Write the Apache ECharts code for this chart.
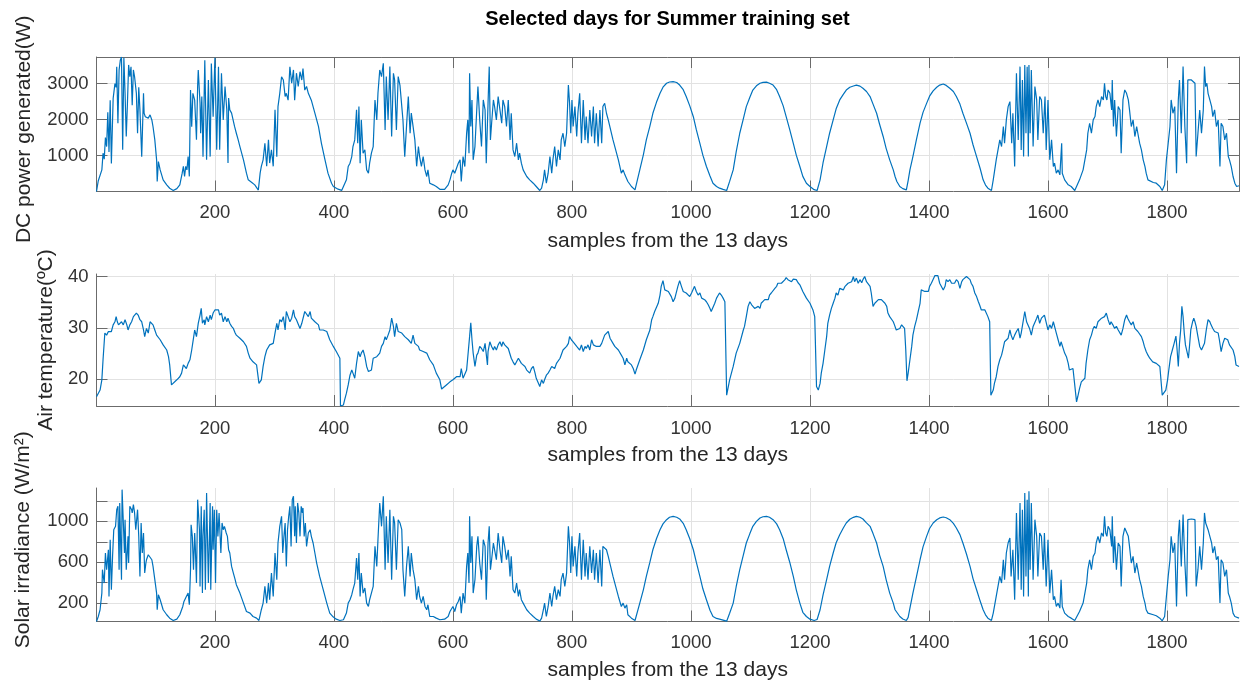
<!DOCTYPE html>
<html><head><meta charset="utf-8">
<script src="https://cdn.jsdelivr.net/npm/echarts@6/dist/echarts.min.js"></script>
<style>html,body{margin:0;padding:0;background:#fff}#c{width:1244px;height:683px}</style>
</head><body><div id="c"></div>
<script>
// [sample index, DC power (W)]
const power = [
[1,0],[4,300],[7,320],[10,600],[12,1065],[14,900],[16,1500],[18,1250],[20,2200],[22,1100],[24,2540],[26,780],[29,2590],[32,3000],[34,2900],[35,3470],[37,1900],[39,3380],[41,3650],[43,3740],[45,1160],[47,3720],[49,2730],[51,1530],[53,2450],[55,3520],[57,3190],[59,3470],[61,2400],[63,3380],[65,3190],[68,2730],[70,1620],[72,2900],[74,2270],[77,970],[80,2730],[81,2180],[83,2080],[85,2130],[88,2040],[91,2130],[94,1990],[96,1800],[99,1435],[102,880],[103,280],[105,830],[108,600],[113,324],[119,185],[124,90],[130,30],[136,80],[141,185],[145,510],[147,700],[149,420],[151,700],[153,600],[155,970],[157,420],
[159,2820],[161,1800],[163,2730],[166,2540],[169,1440],[171,2950],[172,3380],[175,2450],[176,1620],[178,2640],[180,970],[183,3650],[186,880],[189,3100],[192,970],[194,3560],[197,2080],[200,3720],[203,1160],[206,3470],[208,1160],[211,3290],[214,1990],[217,2920],[220,2270],[222,790],[223,2600],[225,2270],[228,2180],[233,1810],[236,1620],[239,1440],[242,1250],[248,880],[253,510],[256,324],[262,250],[267,185],[273,40],
[276,510],[278,700],[281,880],[284,1340],[287,700],[290,1440],[292,790],[295,1160],[298,700],[301,2270],[304,970],[306,2360],[309,2730],[312,3190],[315,3100],[318,2640],[320,2730],[323,2540],[326,3470],[329,3010],[332,3380],[334,2540],[337,3290],[340,2920],[343,3330],[346,3100],[348,3420],[351,2820],[354,2920],[357,2730],[360,2780],[362,2540],[368,2180],[374,1810],[379,1340],[385,880],[390,510],[396,230],[399,140],[402,120],[407,65],[413,30],
[416,140],[421,324],[424,694],[427,787],[430,972],[432,1250],[435,1435],[438,2270],[440,1343],[442,2360],[444,787],[446,1991],[449,1065],[452,1157],[455,602],[458,509],[460,787],[463,1065],[466,1250],[469,2546],[472,1991],[474,2731],[477,3380],[480,3194],[483,3565],[486,1713],[488,3194],[491,1991],[494,3472],[497,1528],[500,3287],[502,3102],[505,1713],[508,3194],[511,2950],[514,2950],[516,1990],[519,970],[522,1810],[525,2640],[528,1620],[530,2180],[533,1810],[536,1435],[539,700],[542,1250],[544,972],[547,700],[550,972],[553,600],[556,417],[558,600],[561,231],[567,185],[572,139],[578,60],[581,20],
[586,60],[592,185],[595,324],[598,509],[600,602],[603,509],[606,648],[609,787],[612,880],[614,278],[617,972],[620,694],[623,1620],[625,1991],[627,1065],[628,3287],[630,1806],[632,2546],[634,880],[637,1250],[640,2268],[642,2917],[645,1991],[648,1250],[651,2546],[654,2268],[656,787],[659,2454],[661,3472],[663,1435],[665,1898],[668,2546],[670,2361],[673,1991],[676,2639],[679,2268],[682,1898],[684,2546],[687,2361],[690,1806],[693,2546],[696,1435],[698,2176],[701,1157],[704,972],[707,1343],[710,880],[712,1065],[715,787],[718,602],[724,417],[729,324],[735,231],[740,139],[746,28],
[749,93],[752,324],[754,602],[757,231],[760,509],[763,972],[766,509],[768,880],[771,1250],[774,694],[777,1157],[780,880],[782,1435],[785,1620],[788,1250],[791,1620],[794,2963],[796,2454],[798,1620],[800,2546],[802,1806],[805,2361],[808,1528],[810,2176],[813,2731],[816,1343],[819,2546],[822,1435],[824,2083],[827,1343],[830,2268],[833,1528],[836,2361],[838,1343],[841,2176],[844,1250],[847,2268],[850,1343],[852,2361],[855,2454],[858,2176],[861,1991],[869,1435],[878,880],[883,509],[886,602],[889,463],[892,509],[894,278],[900,139],[906,46],
[914,600],[920,1020],[925,1435],[931,1820],[936,2175],[942,2480],[948,2730],[953,2900],[959,3010],[964,3045],[970,3055],[976,3030],[981,2960],[987,2830],[992,2640],[998,2380],[1004,2080],[1009,1720],[1015,1340],[1020,1010],[1026,694],[1032,430],[1037,230],[1043,140],[1048,93],[1054,60],[1060,28],
[1065,280],[1071,600],[1076,1100],[1082,1620],[1088,2020],[1093,2360],[1099,2620],[1104,2820],[1110,2940],[1116,3010],[1121,3035],[1127,3040],[1132,3010],[1138,2960],[1144,2830],[1149,2640],[1155,2380],[1160,2080],[1166,1720],[1172,1340],[1177,1010],[1183,694],[1188,420],[1194,230],[1200,139],[1207,50],[1212,28],
[1217,324],[1222,800],[1228,1250],[1233,1620],[1239,1990],[1244,2300],[1250,2546],[1256,2700],[1261,2820],[1267,2900],[1273,2935],[1278,2960],[1284,2930],[1289,2870],[1295,2780],[1301,2640],[1306,2430],[1312,2175],[1317,1870],[1323,1530],[1328,1200],[1334,880],[1340,600],[1343,417],[1346,280],[1351,140],[1356,80],[1362,46],
[1365,300],[1368,600],[1373,970],[1379,1450],[1385,1900],[1390,2200],[1396,2450],[1401,2650],[1407,2800],[1413,2900],[1418,2960],[1424,2990],[1429,2950],[1435,2870],[1441,2780],[1446,2640],[1452,2430],[1457,2175],[1463,1900],[1469,1620],[1474,1300],[1480,970],[1486,640],[1491,325],[1495,180],[1499,93],[1505,28],
[1508,324],[1513,880],[1519,1435],[1522,1250],[1525,1806],[1527,1343],[1530,1991],[1533,2361],[1536,2500],[1539,1343],[1541,2176],[1544,694],[1547,3287],[1550,1435],[1553,3472],[1555,1157],[1557,3102],[1559,972],[1561,3518],[1563,1620],[1565,3472],[1567,972],[1568,3518],[1570,1620],[1572,3380],[1575,1250],[1578,2917],[1581,2546],[1583,1435],[1586,2639],[1589,2546],[1592,1620],[1595,2639],[1597,1157],[1600,2546],[1603,880],[1606,1435],[1609,694],[1611,787],[1614,509],[1617,602],[1620,463],[1623,1343],[1624,509],[1628,324],[1634,185],[1639,139],[1645,28],
[1648,46],[1653,324],[1659,602],[1665,1157],[1667,1620],[1670,1898],[1673,1620],[1676,1991],[1679,2083],[1681,2361],[1684,2546],[1687,2361],[1690,2639],[1693,2546],[1695,3009],[1697,2639],[1699,2546],[1701,2824],[1704,2731],[1707,2268],[1708,3102],[1710,1806],[1712,2546],[1715,1528],[1718,2361],[1721,2268],[1723,1065],[1726,2546],[1729,2824],[1732,2731],[1735,2546],[1737,2268],[1740,1806],[1743,1991],[1746,1528],[1749,1806],[1751,1620],[1754,1343],[1757,1157],[1760,880],[1763,694],[1765,509],[1768,324],[1771,278],[1777,250],[1782,231],[1788,139],[1792,28],
[1796,185],[1799,880],[1802,1343],[1805,1806],[1807,2546],[1810,2176],[1813,2361],[1816,509],[1819,2546],[1821,3102],[1824,1620],[1827,3472],[1830,1806],[1833,787],[1835,3102],[1838,3102],[1841,3102],[1844,3055],[1847,3009],[1849,972],[1852,1620],[1855,2268],[1858,1620],[1861,2268],[1863,3472],[1865,2917],[1867,3009],[1869,2731],[1872,2546],[1875,2361],[1877,2083],[1880,2268],[1883,1806],[1886,1991],[1889,694],[1891,1898],[1894,1806],[1897,1435],[1900,1620],[1903,972],[1905,880],[1908,694],[1911,417],[1914,231],[1917,139],[1921,160]
];

// [sample index, air temperature (ºC)]
const temperature = [
[1,16.6],[4,16.9],[7,17.9],[10,19.9],[12,23.8],[15,29.0],[18,28.6],[21,29.3],[24,29.6],[26,29.3],[29,30.6],[32,31.2],[34,32.2],[36,31.2],[38,30.6],[40,30.9],[43,31.2],[46,30.6],[49,31.6],[52,30.6],[54,29.6],[57,30.6],[60,31.2],[63,32.2],[66,31.9],[68,32.9],[71,32.5],[74,31.6],[77,31.2],[80,29.6],[82,28.3],[85,29.9],[88,29.0],[91,31.2],[94,30.9],[96,30.6],[99,29.6],[102,28.6],[108,27.7],[113,26.7],[119,25.7],[122,24.4],[124,22.8],[127,18.9],[130,19.2],[136,19.9],[141,20.5],[144,21.2],[147,22.8],[150,23.1],[152,22.1],[155,23.1],[158,23.8],[161,25.7],[164,28.0],[166,29.6],[169,28.3],[172,30.9],[175,32.5],[177,33.8],[179,30.9],[182,31.6],[183,30.6],[186,32.2],[189,31.2],[192,32.5],[194,31.6],[197,32.9],[200,33.5],[203,33.2],[206,33.5],[208,32.5],[211,32.9],[214,31.2],[217,32.2],[220,31.2],[222,31.9],[225,30.9],[228,30.3],[231,29.9],[234,29.0],[236,28.6],[242,28.0],[248,27.3],[253,26.4],[256,25.1],[259,24.1],[264,23.4],[270,22.8],[273,22.8],[274,19.2],[277,19.2],[278,19.9],[281,22.5],[284,24.4],[287,25.7],[292,26.7],[298,27.0],[301,29.0],[304,30.9],[306,29.6],[309,31.6],[312,31.2],[315,32.2],[318,29.6],[320,33.2],[323,32.2],[326,31.2],[329,31.9],[332,33.5],[334,32.2],[337,31.6],[340,31.9],[343,29.9],[346,30.9],[348,31.2],[351,33.2],[354,32.9],[357,32.2],[360,33.2],[362,31.9],[365,32.2],[368,31.2],[371,31.2],[374,30.6],[376,29.6],[382,29.6],[388,29.3],[393,27.7],[399,26.4],[404,25.4],[410,24.1],[411,14.8],[416,15.0],[418,16.0],[421,17.3],[424,18.9],[427,20.8],[430,21.8],[432,21.2],[435,20.2],[438,23.1],[441,25.4],[444,24.4],[446,25.1],[449,25.7],[452,24.4],[455,22.5],[458,21.5],[460,21.2],[463,21.8],[466,24.1],[469,24.1],[472,24.4],[474,24.1],[477,25.1],[480,26.4],[483,27.0],[486,28.3],[488,27.7],[491,28.6],[494,29.6],[497,31.9],[500,30.3],[502,28.3],[505,30.9],[508,29.3],
[511,29.6],[514,29.0],[516,29.3],[519,28.3],[522,28.6],[525,27.7],[528,28.0],[530,27.0],[533,28.6],[536,27.0],[539,27.3],[542,26.4],[544,25.7],[547,25.7],[550,25.4],[553,25.7],[556,25.1],[561,23.8],[567,22.8],[572,21.2],[578,19.9],[581,18.1],[584,18.2],[589,18.9],[595,19.5],[600,19.9],[606,20.5],[609,20.8],[612,20.5],[614,22.1],[617,20.2],[620,20.2],[623,21.8],[626,25.7],[628,28.3],[630,31.0],[632,27.7],[634,25.1],[637,22.5],[640,24.7],[642,25.1],[645,26.4],[648,26.0],[651,25.4],[654,27.0],[655,27.3],[658,22.8],[659,25.4],[662,27.3],[665,26.4],[668,25.7],[670,26.4],[673,25.7],[676,26.7],[679,27.3],[682,26.4],[684,27.3],[687,26.7],[690,27.0],[693,26.0],[696,25.7],[698,24.1],[701,23.4],[704,22.8],[707,23.1],[710,24.1],[712,24.1],[715,23.1],[718,22.8],[721,22.5],[724,21.8],[726,21.5],[729,21.2],[732,22.1],[735,22.5],[738,21.2],[740,20.2],[743,20.2],[746,18.6],[749,19.9],[752,19.2],[754,19.9],[757,20.8],[760,21.2],[763,21.8],[766,22.5],[768,22.8],[771,22.1],[774,23.1],[777,23.1],[780,24.1],[782,23.8],[785,25.7],[788,25.4],[791,26.4],[794,27.0],[796,28.3],[799,27.7],[802,27.3],[805,27.0],[808,26.4],[810,26.7],[813,25.7],[816,26.7],[819,25.4],[822,26.4],[824,26.0],[827,26.7],[830,25.7],[833,27.7],[836,26.7],[838,27.0],[841,26.4],[844,26.7],[847,26.4],[850,27.0],[852,27.3],[855,28.6],[858,28.3],[861,29.3],[864,28.0],[866,27.7],[869,27.0],[872,26.4],[875,26.4],[878,25.7],[880,25.4],[883,24.7],[886,24.1],[889,22.8],[892,24.1],[894,23.4],[897,23.1],[900,22.8],[903,22.1],[906,21.0],[908,21.8],[914,23.8],[920,25.7],[925,27.7],[931,29.6],[934,31.6],[936,32.2],[939,33.2],[942,33.5],[945,34.8],[948,36.4],[950,38.1],[953,39.2],[956,37.4],[959,37.7],[962,37.1],[964,36.8],[967,36.1],[970,35.1],[973,35.8],[976,36.1],[978,38.1],[981,39.2],[984,38.1],[987,37.1],[990,37.4],[992,36.8],[995,37.1],[998,36.1],[1001,36.8],[1004,37.1],[1006,38.1],[1009,37.1],[1012,36.4],[1015,36.8],[1018,35.8],[1020,36.1],[1023,35.5],[1026,35.1],[1029,34.5],[1032,33.8],[1034,33.2],[1037,33.5],[1040,34.8],[1043,35.8],[1046,36.4],[1048,36.8],[1051,36.4],[1054,35.8],[1057,35.1],[1060,16.9],[1065,19.9],[1071,22.5],[1076,25.1],[1082,27.0],[1088,29.6],[1090,30.3],[1093,32.2],[1096,34.2],[1099,35.1],[1102,34.5],[1104,34.2],[1107,33.8],[1110,33.5],[1113,34.2],[1116,33.8],[1118,34.8],[1121,35.1],[1124,35.5],[1127,35.8],[1130,35.5],[1132,36.4],[1135,36.8],[1138,37.1],[1141,37.7],[1144,38.1],[1146,38.7],[1149,38.4],[1152,38.7],[1155,39.0],[1158,39.4],[1160,39.8],[1163,39.4],[1166,39.5],[1169,39.0],[1172,39.5],[1174,39.2],[1177,39.4],[1180,38.8],[1183,38.4],[1188,37.1],[1194,35.8],[1200,34.8],[1205,33.5],[1208,32.2],[1211,18.6],[1214,17.9],
[1217,19.2],[1219,21.2],[1222,23.1],[1225,25.7],[1228,28.3],[1230,30.9],[1233,32.5],[1236,33.8],[1239,34.8],[1242,35.8],[1244,36.8],[1247,36.4],[1250,37.7],[1253,37.7],[1256,37.4],[1259,38.1],[1261,38.2],[1264,38.7],[1267,39.0],[1270,39.0],[1273,40.0],[1275,39.0],[1278,39.7],[1281,38.7],[1284,39.4],[1287,38.8],[1289,39.4],[1292,40.0],[1295,39.0],[1298,38.7],[1301,38.1],[1303,36.8],[1306,34.2],[1309,34.8],[1312,35.1],[1315,35.5],[1317,35.5],[1320,35.5],[1323,35.5],[1326,34.8],[1329,34.2],[1331,32.9],[1334,32.2],[1337,31.9],[1340,31.2],[1342,30.6],[1345,29.6],[1348,29.3],[1351,29.9],[1354,30.6],[1356,30.3],[1359,29.9],[1361,25.7],[1363,19.7],[1365,21.2],[1368,23.8],[1371,26.4],[1373,28.6],[1376,30.3],[1379,31.6],[1382,33.2],[1385,34.8],[1387,37.4],[1390,37.1],[1393,37.1],[1396,36.8],[1399,37.1],[1401,38.1],[1404,38.7],[1407,38.7],[1410,40.2],[1413,40.5],[1415,40.2],[1418,38.7],[1421,38.4],[1424,37.4],[1427,38.1],[1429,39.4],[1432,39.0],[1435,39.4],[1438,38.7],[1440,39.0],[1443,38.7],[1446,39.4],[1449,39.0],[1452,37.7],[1455,39.0],[1457,39.4],[1460,39.7],[1463,40.0],[1466,40.1],[1469,39.4],[1471,38.7],[1474,38.1],[1477,36.8],[1480,36.1],[1483,35.1],[1485,34.5],[1488,33.5],[1491,33.2],[1494,33.5],[1497,33.2],[1499,32.2],[1502,31.2],[1504,16.9],[1508,17.9],[1510,19.2],[1513,20.5],[1516,22.5],[1519,23.8],[1522,24.7],[1524,25.7],[1527,27.3],[1530,27.0],[1533,28.0],[1536,29.6],[1538,28.6],[1541,27.7],[1544,28.6],[1547,29.3],[1550,29.9],[1553,28.0],[1555,29.0],[1558,29.3],[1561,33.2],[1564,31.2],[1567,30.9],[1569,29.9],[1572,28.6],[1575,30.3],[1578,30.6],[1581,31.9],[1583,32.5],[1586,30.9],[1589,31.9],[1592,32.2],[1594,32.5],[1597,32.5],[1600,29.6],[1603,30.6],[1606,29.9],[1609,31.2],[1611,30.9],[1614,29.0],[1617,27.7],[1620,26.4],[1622,27.3],[1625,27.0],[1628,25.1],[1631,24.4],[1634,23.1],[1636,21.8],[1639,22.1],[1642,22.1],[1645,22.1],[1648,15.6],[1650,16.6],[1653,18.2],[1656,19.5],[1659,19.5],[1662,20.2],[1664,23.1],[1667,25.7],[1670,27.7],[1673,28.6],[1676,29.9],[1678,30.3],[1681,29.9],[1684,31.2],[1687,31.2],[1690,31.9],[1692,31.6],[1695,32.2],[1698,32.9],[1701,31.6],[1704,30.6],[1706,31.2],[1709,30.6],[1712,29.9],[1715,30.3],[1718,29.6],[1720,29.3],[1723,28.6],[1726,29.9],[1729,31.6],[1732,32.5],[1734,31.9],[1737,31.2],[1740,30.6],[1743,31.2],[1746,29.9],[1748,29.9],[1751,29.3],[1754,29.0],[1757,28.3],[1760,27.3],[1762,26.4],[1765,25.4],[1768,24.7],[1771,24.1],[1774,23.8],[1776,23.4],[1779,23.1],[1782,23.1],[1785,22.8],[1788,22.5],[1790,22.5],[1792,16.9],[1795,16.9],[1798,17.9],[1801,19.9],[1803,21.8],[1806,24.4],[1809,25.7],[1812,27.0],[1815,28.4],[1817,25.7],[1819,22.5],[1821,27.0],[1823,29.6],[1825,34.2],[1827,32.2],[1829,29.0],[1831,26.7],[1833,25.7],[1834,26.0],[1836,24.1],[1838,26.7],[1840,29.6],[1843,31.2],[1845,31.9],[1847,31.2],[1849,30.3],[1852,28.3],[1855,26.4],[1858,25.7],[1860,26.0],[1863,27.0],[1866,29.6],[1869,31.6],[1872,31.2],[1874,30.6],[1877,29.9],[1880,29.3],[1883,29.6],[1886,29.0],[1888,27.7],[1891,25.4],[1894,27.0],[1897,28.0],[1900,28.0],[1902,27.7],[1905,26.7],[1908,26.7],[1911,25.7],[1914,24.4],[1916,22.8],[1921,22.5]
];

// [sample index, solar irradiance (W/m²)]
const irradiance = [
[1,20],[4,69],[7,135],[10,298],[11,527],[14,396],[16,690],[18,527],[21,722],[22,265],[24,820],[26,331],[28,657],[30,918],[33,951],[35,1114],[37,1147],[39,527],[40,1180],[43,429],[44,1310],[46,1326],[48,690],[49,1016],[51,527],[54,853],[55,592],[57,1147],[60,1114],[61,1082],[63,1163],[65,1082],[67,918],[70,1114],[72,853],[74,461],[76,984],[78,690],[80,886],[82,494],[84,592],[85,624],[88,673],[91,657],[94,624],[96,559],[99,429],[102,298],[103,135],[105,282],[108,233],[113,135],[119,86],[124,53],[130,30],[136,43],[141,86],[146,167],[148,216],[150,200],[152,265],[155,298],[157,184],[159,527],[160,967],[162,853],[164,527],[166,886],[167,755],[169,396],[171,1212],[174,918],[175,363],[177,1147],[179,298],[180,853],[182,1114],[184,331],[186,1278],[188,690],[189,396],[192,1180],[193,331],[196,1147],[197,722],[199,1114],[201,396],[203,1114],[205,853],[207,1082],[210,690],[212,984],[214,918],[216,951],[219,886],[221,853],[223,722],[225,690],[228,559],[231,494],[234,429],[236,380],[242,298],[248,200],[253,118],[259,102],[264,69],[270,53],[274,30],
[278,135],[281,200],[284,363],[287,200],[290,396],[292,233],[295,494],[298,265],[301,690],[304,429],[306,788],[309,951],[312,1049],[314,690],[316,853],[318,984],[320,559],[322,918],[324,1049],[326,1147],[328,755],[330,1212],[332,1245],[334,853],[335,1147],[337,788],[339,1180],[341,1082],[343,853],[345,1147],[347,1082],[348,1131],[350,853],[352,984],[354,755],[357,886],[360,918],[362,853],[365,788],[368,690],[371,592],[376,461],[382,331],[388,200],[393,102],[399,63],[404,43],[410,30],
[416,37],[421,102],[424,200],[427,233],[430,282],[432,331],[435,396],[438,641],[440,429],[442,690],[444,265],[446,494],[449,298],[452,347],[455,200],[458,167],[460,233],[463,298],[466,363],[469,755],[472,559],[474,820],[477,1180],[480,951],[483,1245],[486,527],[488,1049],[491,592],[494,1114],[497,429],[500,1049],[502,984],[505,527],[508,1016],[511,984],[514,918],[516,527],[519,265],[522,559],[525,755],[528,461],[530,690],[533,527],[536,429],[539,233],[542,363],[544,265],[547,200],[550,265],[553,167],[556,135],[558,184],[561,69],[567,69],[572,53],[578,37],[581,27],
[586,43],[592,69],[595,118],[598,135],[600,167],[603,118],[606,184],[609,216],[612,265],[614,102],[617,298],[620,200],[623,559],[625,690],[627,396],[628,1049],[630,592],[632,853],[634,298],[637,429],[640,755],[642,853],[645,592],[648,429],[651,820],[654,755],[656,233],[659,788],[661,951],[663,527],[665,624],[668,788],[670,722],[673,624],[676,886],[679,722],[682,592],[684,853],[687,755],[690,624],[693,722],[696,461],[698,657],[701,331],[704,298],[707,396],[710,265],[712,331],[715,233],[718,200],[724,135],[729,102],[735,69],[740,43],[746,24],
[749,53],[752,135],[754,200],[757,69],[760,167],[763,298],[766,167],[768,265],[771,363],[774,233],[777,331],[780,265],[782,429],[785,494],[788,363],[791,494],[794,951],[796,788],[798,494],[800,853],[802,559],[805,755],[808,461],[810,690],[813,886],[816,429],[819,820],[822,461],[824,690],[827,429],[830,755],[833,494],[836,722],[838,429],[841,690],[844,396],[847,722],[850,363],[852,755],[855,771],[858,722],[861,657],[869,461],[878,265],[883,167],[886,200],[889,151],[892,184],[894,86],[900,53],[906,30],
[914,200],[920,330],[925,461],[931,600],[936,722],[942,830],[948,918],[953,975],[959,1016],[964,1040],[970,1049],[976,1040],[981,1023],[987,980],[992,918],[998,830],[1004,722],[1009,600],[1015,461],[1020,340],[1026,233],[1032,130],[1037,69],[1043,50],[1048,43],[1054,33],[1060,23],
[1065,100],[1071,200],[1076,360],[1082,527],[1088,670],[1093,788],[1099,880],[1104,951],[1110,1000],[1116,1033],[1121,1045],[1127,1049],[1132,1040],[1138,1016],[1144,975],[1149,918],[1155,830],[1160,722],[1166,600],[1172,461],[1177,330],[1183,200],[1188,110],[1194,69],[1200,43],[1207,30],[1212,40],
[1217,135],[1222,280],[1228,429],[1233,560],[1239,690],[1244,790],[1250,869],[1256,935],[1261,984],[1267,1020],[1273,1039],[1278,1049],[1284,1040],[1289,1023],[1295,985],[1301,951],[1306,880],[1312,788],[1317,670],[1323,559],[1328,430],[1334,298],[1340,200],[1343,135],[1351,69],[1356,45],[1362,30],
[1365,60],[1368,150],[1373,298],[1379,460],[1385,624],[1390,750],[1396,853],[1401,930],[1407,984],[1413,1015],[1418,1033],[1424,1042],[1429,1035],[1435,1016],[1441,980],[1446,935],[1452,870],[1457,788],[1463,680],[1469,559],[1474,440],[1480,331],[1486,220],[1491,135],[1495,85],[1499,53],[1505,30],
[1508,102],[1513,265],[1519,461],[1522,396],[1525,624],[1527,429],[1530,690],[1533,788],[1536,837],[1538,461],[1541,722],[1544,233],[1547,1082],[1550,429],[1553,1180],[1555,331],[1557,1114],[1559,265],[1561,1278],[1563,461],[1565,1212],[1567,265],[1568,1294],[1570,527],[1572,1180],[1575,429],[1578,1016],[1581,853],[1583,461],[1586,886],[1589,853],[1592,527],[1594,886],[1597,363],[1600,820],[1603,298],[1606,527],[1609,233],[1611,265],[1614,167],[1617,200],[1620,151],[1622,429],[1624,167],[1628,102],[1634,69],[1639,53],[1645,30],
[1648,37],[1653,118],[1659,200],[1665,396],[1667,527],[1670,624],[1673,527],[1676,657],[1679,690],[1681,788],[1684,853],[1687,788],[1690,886],[1693,853],[1695,1049],[1697,886],[1699,853],[1701,951],[1704,918],[1707,755],[1708,1049],[1710,592],[1712,853],[1715,527],[1718,788],[1721,755],[1723,363],[1726,853],[1729,935],[1732,918],[1735,853],[1737,755],[1740,592],[1743,657],[1746,494],[1749,592],[1751,527],[1754,429],[1757,363],[1760,265],[1763,200],[1765,135],[1768,102],[1771,96],[1777,86],[1782,76],[1788,53],[1792,27],
[1796,69],[1799,265],[1802,461],[1805,624],[1807,853],[1810,690],[1813,788],[1816,167],[1819,853],[1821,1016],[1824,559],[1827,1066],[1830,592],[1833,265],[1835,1016],[1838,1023],[1841,1023],[1844,1016],[1847,1016],[1849,363],[1852,527],[1855,755],[1858,527],[1861,788],[1863,1082],[1865,984],[1867,1000],[1869,918],[1872,853],[1875,788],[1877,690],[1880,755],[1883,624],[1886,657],[1889,200],[1891,624],[1894,592],[1897,461],[1900,527],[1903,298],[1905,265],[1908,200],[1911,102],[1914,69],[1917,53],[1921,53]
];

const xTicks = [200, 400, 600, 800, 1000, 1200, 1400, 1600, 1800];
const powerTicks = [1000, 2000, 3000];
const tempTicks = [20, 30, 40];
const irrTicks = [200, 400, 600, 800, 1000, 1200];
const irrLabels = [200, 600, 1000];

const FONT = '"Liberation Sans", Arial, Helvetica, sans-serif';
const AXIS_COLOR = '#6b6b6b';
const GRID_COLOR = '#e2e2e2';
const LABEL_COLOR = '#333333';
const LINE_COLOR = '#0072bd';
const X_MIN = 1, X_MAX = 1921;
const plain = v => String(v);

function xAxisFor(gridIndex, nameGap, labelMargin) {
  return {
    type: 'value', gridIndex, min: X_MIN, max: X_MAX, position: 'bottom',
    axisLine: { show: true, onZero: false, lineStyle: { color: AXIS_COLOR, width: 1 } },
    axisTick: { show: true, inside: true, length: 11, customValues: xTicks, lineStyle: { color: AXIS_COLOR } },
    axisLabel: { show: true, customValues: xTicks, formatter: plain, margin: labelMargin, fontSize: 18.5, color: LABEL_COLOR, fontFamily: FONT },
    splitLine: { show: true, lineStyle: { color: GRID_COLOR, width: 1 } },
    name: 'samples from the 13 days', nameLocation: 'middle', nameGap,
    nameTextStyle: { fontSize: 21, color: '#262626', fontFamily: FONT }
  };
}
function yAxisFor(gridIndex, min, max, ticks, labels, name, nameGap, pad) {
  return {
    type: 'value', gridIndex, min, max, position: 'left',
    axisLine: { show: true, onZero: false, lineStyle: { color: AXIS_COLOR, width: 1 } },
    axisTick: { show: true, inside: true, length: 11, customValues: ticks, lineStyle: { color: AXIS_COLOR } },
    axisLabel: { show: true, customValues: labels, formatter: plain, margin: 8, fontSize: 18.5, color: LABEL_COLOR, fontFamily: FONT },
    splitLine: { show: true, lineStyle: { color: GRID_COLOR, width: 1 } },
    name, nameLocation: 'middle', nameRotate: 90, nameGap,
    nameTextStyle: { fontSize: 21, color: '#262626', fontFamily: FONT, padding: pad }
  };
}

const chart = echarts.init(document.getElementById('c'), null, { renderer: 'canvas' });
chart.setOption({
  animation: false,
  backgroundColor: '#ffffff',
  textStyle: { fontFamily: FONT },
  title: {
    text: 'Selected days for Summer training set', left: 667.5, top: 9, padding: 0, textAlign: 'center',
    textStyle: { fontSize: 20, fontWeight: 'bold', color: '#000000', fontFamily: FONT }
  },
  grid: [
    { left: 96.5, top: 57, width: 1142.5, height: 134.5 },
    { left: 96.5, top: 274, width: 1142.5, height: 132 },
    { left: 96.5, top: 488, width: 1142.5, height: 133.5 }
  ],
  xAxis: [
    xAxisFor(0, 39, 12),
    { type: 'value', gridIndex: 0, min: X_MIN, max: X_MAX, position: 'top',
      axisLine: { show: true, onZero: false, lineStyle: { color: AXIS_COLOR, width: 1 } },
      axisTick: { show: true, inside: true, length: 11, customValues: xTicks, lineStyle: { color: AXIS_COLOR } },
      axisLabel: { show: false }, splitLine: { show: false } },
    xAxisFor(1, 38.5, 13),
    xAxisFor(2, 38, 12)
  ],
  yAxis: [
    yAxisFor(0, 0, 3740, powerTicks, powerTicks, 'DC power generated(W)', 62, [0, 10, 0, 0]),
    { type: 'value', gridIndex: 0, min: 0, max: 3740, position: 'right',
      axisLine: { show: true, onZero: false, lineStyle: { color: AXIS_COLOR, width: 1 } },
      axisTick: { show: true, inside: true, length: 11, customValues: powerTicks, lineStyle: { color: AXIS_COLOR } },
      axisLabel: { show: false }, splitLine: { show: false } },
    yAxisFor(1, 14.8, 40.5, tempTicks, tempTicks, 'Air temperature(ºC)', 34, [0, 0, 0, 0]),
    yAxisFor(2, 20, 1326, irrTicks, irrLabels, 'Solar irradiance (W/m²)', 63, [0, 0, 0, 30])
  ],
  series: [
    { type: 'line', xAxisIndex: 0, yAxisIndex: 0, data: power, showSymbol: false, symbol: 'none', silent: true,
      lineStyle: { width: 1.2, color: LINE_COLOR }, itemStyle: { color: LINE_COLOR } },
    { type: 'line', xAxisIndex: 2, yAxisIndex: 2, data: temperature, showSymbol: false, symbol: 'none', silent: true,
      lineStyle: { width: 1.2, color: LINE_COLOR }, itemStyle: { color: LINE_COLOR } },
    { type: 'line', xAxisIndex: 3, yAxisIndex: 3, data: irradiance, showSymbol: false, symbol: 'none', silent: true,
      lineStyle: { width: 1.2, color: LINE_COLOR }, itemStyle: { color: LINE_COLOR } }
  ]
});
</script></body></html>
